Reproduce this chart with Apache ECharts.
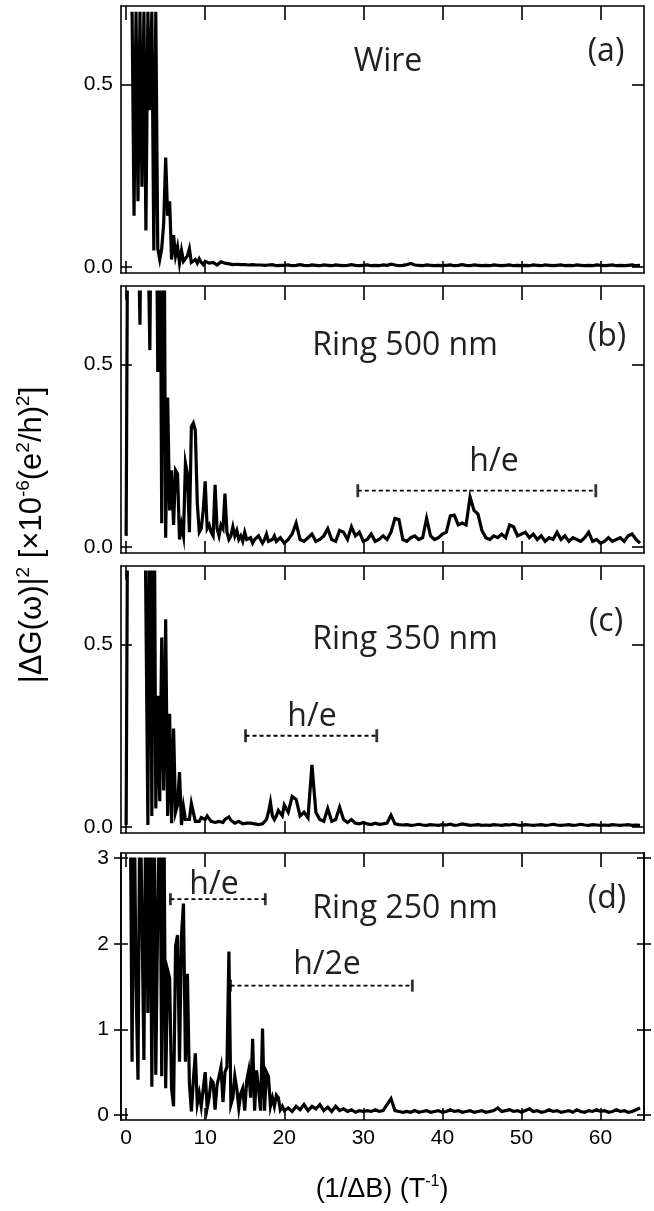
<!DOCTYPE html>
<html><head><meta charset="utf-8">
<script src="https://cdn.jsdelivr.net/npm/echarts@6.0.0/dist/echarts.min.js"></script>
<style>html,body{margin:0;padding:0;background:#fff;}#chart{width:654px;height:1211px;}</style>
</head><body><div id="chart"></div>
<script>
// ---------------- data ----------------
const xTicks = [0, 10, 20, 30, 40, 50, 60];
const yTicksRing = [0, 0.5];
const yTicksD = [0, 1, 2, 3];
// sampling grid: 0..20 every 0.25, then 20.5..65 every 0.5
const lowStep = 0.25, lowCount = 81, highStart = 20, highStep = 0.5, highCount = 90;

const wireLow = [null,null,null,0.70, 0.14,0.70,0.18,0.70, 0.22,0.70,0.10,0.70, 0.43,0.70,0.045,0.70,
  0.05,0.02,0.05,0.12, 0.30,0.14,0.18,0.02, 0.087,0.03,0.055,0.01, 0.045,0.015,0.01,0.03,
  0.05,0.012,0.008,0.02, 0.01,0.022,0.012,0.006, 0.015,0.02,0.01,0.006, 0.012,0.008,0.005,0.01,
  0.014,0.018,0.01,0.006, 0.008,0.012,0.006,0.005, 0.007,0.01,0.006,0.004, 0.006,0.009,0.005,0.004,
  0.006,0.008,0.005,0.004, 0.005,0.007,0.004,0.003, 0.005,0.004,0.006,0.004, 0.003,0.005,0.004,0.003,
  0.004];
const wireHigh = [0.005,0.003,0.004,0.006,0.004,0.003,0.005,0.004,0.003,0.005,
  0.004,0.003,0.005,0.004,0.003,0.004,0.006,0.004,0.003,0.004,
  0.005,0.003,0.004,0.003,0.005,0.004,0.007,0.005,0.003,0.004,
  0.006,0.009,0.005,0.004,0.003,0.005,0.004,0.003,0.004,0.003,
  0.004,0.005,0.003,0.004,0.006,0.004,0.003,0.005,0.004,0.003,
  0.004,0.003,0.005,0.004,0.003,0.004,0.005,0.003,0.004,0.003,
  0.004,0.003,0.005,0.004,0.003,0.005,0.004,0.003,0.004,0.005,
  0.003,0.004,0.003,0.005,0.004,0.003,0.004,0.003,0.005,0.004,
  0.003,0.004,0.005,0.003,0.004,0.003,0.004,0.005,0.003,0.004];

const ring500Low = [0.03,1.2,1.2,1.2, 1.2,1.2,1.2,0.61, 1.2,1.2,1.2,1.2, 0.54,1.2,1.2,1.2,
  0.48,1.2,0.065,1.2, 0.025,0.41,0.10,0.21, 0.06,0.21,0.20,0.02, 0.06,0.03,0.23,0.20,
  0.04,0.33,0.34,0.32, 0.12,0.04,0.05,0.10, 0.18,0.05,0.06,0.04, 0.03,0.17,0.05,0.03,
  0.06,0.05,0.146,0.04, 0.02,0.03,0.055,0.03, 0.045,0.02,0.03,0.015, 0.04,0.02,0.015,0.025,
  0.01,0.02,0.015,0.03, 0.02,0.01,0.02,0.035, 0.015,0.01,0.02,0.03, 0.015,0.01,0.025,0.02,
  0.01];
const ring500High = [0.02,0.035,0.065,0.02,0.015,0.025,0.035,0.015,0.02,0.03,
  0.05,0.02,0.015,0.045,0.04,0.02,0.055,0.03,0.04,0.015,
  0.02,0.035,0.015,0.02,0.03,0.02,0.04,0.078,0.075,0.02,
  0.015,0.025,0.03,0.02,0.025,0.078,0.03,0.02,0.025,0.035,
  0.04,0.085,0.087,0.06,0.065,0.06,0.137,0.10,0.09,0.045,
  0.025,0.02,0.03,0.025,0.035,0.025,0.06,0.055,0.03,0.035,
  0.04,0.025,0.035,0.02,0.03,0.015,0.025,0.02,0.04,0.02,
  0.03,0.015,0.025,0.02,0.015,0.025,0.04,0.015,0.02,0.01,
  0.015,0.025,0.015,0.02,0.025,0.015,0.03,0.035,0.02,0.01];

const ring350Low = [0.005,1.2,1.2,1.2, 1.2,1.2,1.2,1.2, 1.2,1.2,1.2,0.005, 1.2,0.03,1.2,0.05,
  0.36,0.07,0.52,0.10, 0.57,0.03,0.31,0.01, 0.27,0.04,0.06,0.15, 0.005,0.055,0.02,0.015,
  0.02,0.064,0.06,0.015, 0.02,0.015,0.025,0.03, 0.02,0.03,0.025,0.015, 0.02,0.012,0.01,0.015,
  0.01,0.012,0.02,0.025, 0.027,0.018,0.015,0.01, 0.012,0.015,0.01,0.008, 0.012,0.01,0.008,0.01,
  0.006,0.008,0.01,0.006, 0.01,0.008,0.012,0.02, 0.04,0.068,0.03,0.02, 0.03,0.045,0.05,0.03,
  0.06];
const ring350High = [0.04,0.083,0.075,0.03,0.04,0.025,0.17,0.04,0.02,0.015,
  0.05,0.015,0.02,0.054,0.02,0.012,0.02,0.01,0.008,0.012,
  0.008,0.006,0.01,0.007,0.008,0.01,0.032,0.008,0.006,0.005,
  0.006,0.004,0.005,0.007,0.005,0.004,0.006,0.005,0.004,0.006,
  0.005,0.007,0.004,0.005,0.008,0.006,0.004,0.005,0.006,0.004,
  0.005,0.004,0.006,0.005,0.004,0.006,0.005,0.007,0.005,0.004,
  0.006,0.005,0.004,0.005,0.006,0.004,0.005,0.007,0.005,0.004,
  0.005,0.006,0.004,0.005,0.007,0.005,0.004,0.006,0.005,0.004,
  0.005,0.004,0.006,0.005,0.004,0.005,0.006,0.004,0.005,0.004];

const ring250Low = [4,4,4,0.62, 4,1.5,0.41,4, 4,0.64,4,1.19, 4,0.33,4,0.47,
  2.4,4,0.45,4, 0.31,1.69,1.6,0.3, 0.1,1.97,2.1,0.62, 2.1,2.47,0.62,1.65,
  0.37,0.04,0.4,0.72, 0.13,0.25,0.1,0.3, 0.5,0.08,0.2,0.41, 0.38,0.06,0.35,0.45,
  0.56,0.15,0.5,0.56, 1.91,0.12,0.2,0.45, 0.3,0.08,0.25,0.31, 0.05,0.4,0.52,0.2,
  0.89,0.05,0.52,0.3, 0.05,1.01,0.05,0.5, 0.45,0.1,0.2,0.1, 0.23,0.2,0.06,0.1,
  0.05];
const ring250High = [0.08,0.04,0.1,0.06,0.12,0.05,0.1,0.07,0.12,0.05,
  0.09,0.04,0.1,0.05,0.07,0.04,0.06,0.03,0.05,0.04,
  0.05,0.04,0.06,0.04,0.05,0.12,0.19,0.05,0.04,0.03,
  0.04,0.03,0.05,0.03,0.04,0.05,0.03,0.04,0.05,0.03,
  0.04,0.06,0.04,0.05,0.03,0.04,0.05,0.03,0.04,0.05,
  0.03,0.04,0.05,0.08,0.04,0.05,0.06,0.04,0.05,0.03,
  0.05,0.07,0.04,0.05,0.03,0.04,0.06,0.04,0.05,0.03,
  0.04,0.05,0.03,0.06,0.04,0.03,0.05,0.04,0.06,0.04,
  0.05,0.03,0.04,0.06,0.04,0.05,0.03,0.04,0.06,0.08];

// period bars: [from, to, level]
const heBarB = [29.3, 59.4, 0.154];
const heBarC = [15.1, 31.7, 0.25];
const heBarD = [5.6, 17.6, 2.52];
const h2eBarD = [13.2, 36.2, 1.51];

const panelNames = ['Wire', 'Ring 500 nm', 'Ring 350 nm', 'Ring 250 nm'];
const panelTags = ['(a)', '(b)', '(c)', '(d)'];

// ---------------- layout ----------------
const L = 121, W = 523, H = 267, clipInset = 6;
const frameTops = [6, 286, 566, 853];
const xMin = -0.65, xMax = 65.5;
const yRanges = [[-0.017, 0.716], [-0.017, 0.716], [-0.017, 0.716], [-0.06, 3.06]];
const AX = '#000';
const numFont = '"Liberation Sans", Arial, Helvetica, sans-serif';
const txtFont = '"Open Sans", "Noto Sans", sans-serif';
const tickFont = 21;

const xs = [];
for (let i = 0; i < lowCount; i++) xs.push(i * lowStep);
for (let j = 1; j <= highCount; j++) xs.push(highStart + j * highStep);

const panels = [
  {vals: wireLow.concat(wireHigh), ticks: yTicksRing, bars: []},
  {vals: ring500Low.concat(ring500High), ticks: yTicksRing, bars: [heBarB]},
  {vals: ring350Low.concat(ring350High), ticks: yTicksRing, bars: [heBarC]},
  {vals: ring250Low.concat(ring250High), ticks: yTicksD, bars: [heBarD, h2eBarD]}
];

const option = {animation: false, grid: [], xAxis: [], yAxis: [], series: [], graphic: []};

function xAxisCfg(g, pos, len, labels) {
  return {gridIndex: g, type: 'value', position: pos, min: xMin, max: xMax,
    axisLine: {show: true, onZero: false, lineStyle: {color: AX, width: 1.6}},
    axisTick: {show: true, inside: true, length: len, customValues: xTicks, lineStyle: {color: AX, width: 1.6}},
    axisLabel: {show: labels, customValues: xTicks, color: '#000', fontSize: tickFont, fontFamily: numFont, margin: 8},
    splitLine: {show: false}};
}
function yAxisCfg(g, pos, p, inside, len, labels, ticks, fmt, margin) {
  return {gridIndex: g, type: 'value', position: pos, min: yRanges[p][0], max: yRanges[p][1],
    axisLine: {show: true, onZero: false, lineStyle: {color: AX, width: 1.6}},
    axisTick: {show: true, inside: inside, length: len, customValues: ticks, lineStyle: {color: AX, width: 1.6}},
    axisLabel: {show: labels, customValues: ticks, formatter: fmt, color: '#000', fontSize: tickFont, fontFamily: numFont, margin: margin},
    splitLine: {show: false}};
}

panels.forEach((p, k) => {
  const T = frameTops[k];
  const [ymin, ymax] = yRanges[k];
  const ppu = H / (ymax - ymin);
  const dataMax = ymax - clipInset / ppu;
  const gF = option.grid.length;
  option.grid.push({left: L, top: T, width: W, height: H});
  const gD = option.grid.length;
  option.grid.push({left: L, top: T + clipInset, width: W, height: H - clipInset});

  const xb = option.xAxis.length;
  option.xAxis.push(xAxisCfg(gF, 'bottom', 12, k === 3));
  option.xAxis.push(xAxisCfg(gF, 'top', 14, false));
  const xd = option.xAxis.length;
  option.xAxis.push({gridIndex: gD, type: 'value', min: xMin, max: xMax, show: false});

  const yl = option.yAxis.length;
  if (k < 3) {
    const f = v => v.toFixed(1);
    option.yAxis.push(yAxisCfg(gF, 'left', k, true, 11, true, p.ticks, f, 8));
    option.yAxis.push(yAxisCfg(gF, 'right', k, true, 12, false, p.ticks, f, 8));
  } else {
    const f = v => String(v);
    option.yAxis.push(yAxisCfg(gF, 'left', k, false, 7, true, p.ticks, f, 12));
    option.yAxis.push(yAxisCfg(gF, 'left', k, true, 7, false, p.ticks, f, 8));
    option.yAxis.push(yAxisCfg(gF, 'right', k, true, 7, false, p.ticks, f, 8));
    option.yAxis.push(yAxisCfg(gF, 'right', k, false, 7, false, p.ticks, f, 8));
  }
  const yd = option.yAxis.length;
  option.yAxis.push({gridIndex: gD, type: 'value', min: ymin, max: dataMax, show: false});

  option.series.push({type: 'line', xAxisIndex: xd, yAxisIndex: yd, silent: true,
    showSymbol: false, symbol: 'none', clip: true, connectNulls: false,
    lineStyle: {color: '#000', width: 3.2, join: 'miter'},
    data: xs.map((x, i) => [x, p.vals[i] == null ? '-' : p.vals[i]])});

  const capH = k === 3 ? 12 : 13;
  p.bars.forEach(b => {
    option.series.push({type: 'line', xAxisIndex: xb, yAxisIndex: yl, silent: true,
      showSymbol: false, symbol: 'none',
      lineStyle: {color: '#000', width: 1.8, type: [4, 3]},
      data: [[b[0], b[2]], [b[1], b[2]]]});
    option.series.push({type: 'scatter', xAxisIndex: xb, yAxisIndex: yl, silent: true,
      symbol: 'rect', symbolSize: [2.8, capH], itemStyle: {color: '#000'},
      data: [[b[0], b[2]], [b[1], b[2]]]});
  });
});

// text annotations
const txt = (t, x, y, size) => ({type: 'text', x: x, y: y, silent: true,
  style: {text: t, fontSize: size, fontFamily: txtFont, fill: '#231f20', align: 'center', verticalAlign: 'middle'}});
const namePos = [[388, 62], [405, 346], [405, 640], [405, 909]];
const tagPos = [[606, 52], [607, 337], [606, 622], [607, 899]];
panelNames.forEach((n, k) => option.graphic.push(txt(n, namePos[k][0], namePos[k][1], 32)));
panelTags.forEach((n, k) => option.graphic.push(txt(n, tagPos[k][0], tagPos[k][1], 32)));
option.graphic.push(txt('h/e', 494, 462, 32));
option.graphic.push(txt('h/e', 312, 717, 32));
option.graphic.push(txt('h/e', 214, 885, 32));
option.graphic.push(txt('h/2e', 327, 965, 32));

const richY = {
  n: {fontSize: 31, fontFamily: numFont, fill: '#000', lineHeight: 36},
  s: {fontSize: 19, fontFamily: numFont, fill: '#000', lineHeight: 17, verticalAlign: 'top'}
};
const richX = {
  n: {fontSize: 27, fontFamily: numFont, fill: '#000', lineHeight: 32},
  s: {fontSize: 16, fontFamily: numFont, fill: '#000', lineHeight: 15, verticalAlign: 'top'}
};
option.graphic.push({type: 'text', x: 32, y: 535, rotation: Math.PI / 2, silent: true,
  style: {text: '{n||ΔG(ω)|}{s|2}{n| [×10}{s|-6}{n|(e}{s|2}{n|/h)}{s|2}{n|]}',
    rich: richY, align: 'center', verticalAlign: 'middle'}});
option.graphic.push({type: 'text', x: 382, y: 1190, silent: true,
  style: {text: '{n|(1/ΔB) (T}{s|-1}{n|)}', rich: richX, align: 'center', verticalAlign: 'middle'}});

const chart = echarts.init(document.getElementById('chart'), null, {renderer: 'canvas'});
chart.setOption(option);
</script>
</body></html>
